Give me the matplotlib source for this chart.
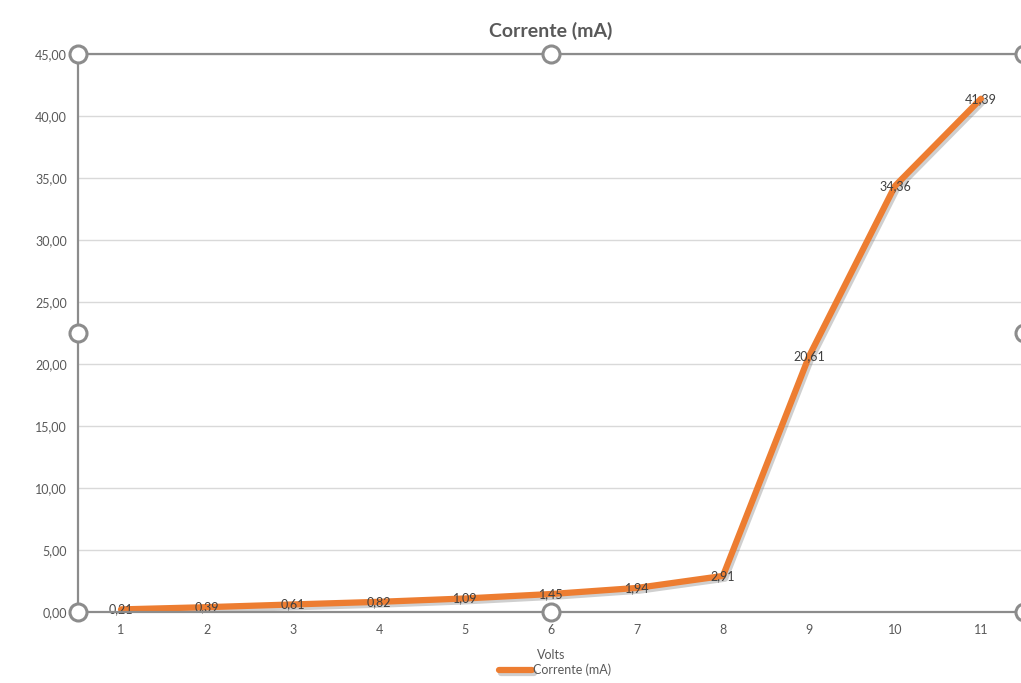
import matplotlib.pyplot as plt
import matplotlib.patheffects as pe
from matplotlib.ticker import FuncFormatter

volts = [1, 2, 3, 4, 5, 6, 7, 8, 9, 10, 11]
corrente = [0.21, 0.39, 0.61, 0.82, 1.09, 1.45, 1.94, 2.91, 20.61, 34.36, 41.39]
y_ticks = [0, 5, 10, 15, 20, 25, 30, 35, 40, 45]

plt.rcParams['font.family'] = ['Lato', 'DejaVu Sans']
txt = '#595959'
orange = '#ED7D31'
frame = '#8C8C8C'

fig = plt.figure(figsize=(10.21, 6.83), dpi=100)
ax = fig.add_axes([78 / 1021, 1 - 612 / 683, (1024 - 78) / 1021, (612 - 54) / 683])
ax.set_clip_on(False)

ax.plot(volts, corrente, color=orange, lw=4.5, solid_capstyle='round', zorder=3,
        label='Corrente (mA)',
        path_effects=[pe.SimpleLineShadow(offset=(1.5, -2), shadow_color='#777777', alpha=0.35),
                      pe.Normal()])

for x, y in zip(volts, corrente):
    ax.text(x, y, f'{y:.2f}'.replace('.', ','), ha='center', va='center',
            fontsize=9, color='#404040', zorder=4)

ax.set_xlim(0.5, 11.5)
ax.set_ylim(0, 45)
ax.set_xticks(volts)
ax.set_yticks(y_ticks)
ax.yaxis.set_major_formatter(FuncFormatter(lambda v, p: f'{v:.2f}'.replace('.', ',')))
ax.tick_params(length=0, labelsize=9, colors=txt, pad=8)
ax.tick_params(axis='x', pad=9)
ax.grid(axis='y', color='#D9D9D9', lw=1)
ax.set_axisbelow(True)
for s in ax.spines.values():
    s.set_visible(False)

ax.set_title('Corrente (mA)', fontsize=14, fontweight='bold', color=txt, pad=12)
ax.set_xlabel('Volts', fontsize=9, color=txt, labelpad=9)

# selection frame and handles of the plot area
for xs, ys in [([0, 1], [1, 1]), ([0, 0], [0, 1]), ([0, 1], [0, 0])]:
    ax.plot(xs, ys, transform=ax.transAxes, color=frame, lw=1.6, zorder=5, clip_on=False)
hx = [0, 0.5, 1, 0, 1, 0, 0.5, 1]
hy = [1, 1, 1, 0.5, 0.5, 0, 0, 0]
ax.scatter(hx, hy, transform=ax.transAxes, s=150, facecolor='white', edgecolor=frame,
           linewidth=2.2, zorder=6, clip_on=False)

leg = fig.legend(loc='center', bbox_to_anchor=(555 / 1021, 1 - 670 / 683), frameon=False,
                 fontsize=9, handlelength=2.6, handletextpad=0.1)
for t in leg.get_texts():
    t.set_color(txt)

fig.savefig('out.png', dpi=100)
